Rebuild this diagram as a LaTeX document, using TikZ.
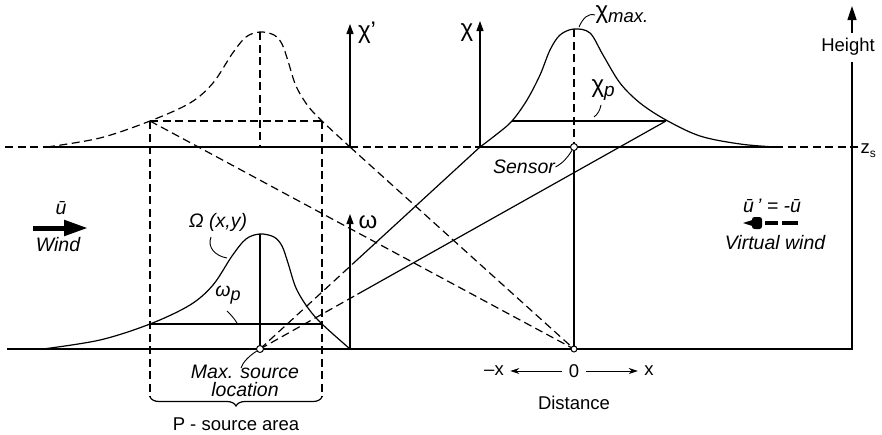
\documentclass[tikz,border=0pt]{standalone}
\usepackage{fontspec}
\setmainfont{Liberation Sans}
\usetikzlibrary{arrows.meta,decorations.pathreplacing,calc}
\begin{document}
\begin{tikzpicture}[x=1pt,y=-1pt,
  line width=1.2pt,
  dsh/.style={dash pattern=on 8pt off 4.5pt},
  lbl/.style={inner sep=0pt,font=\fontsize{18.5}{21}\selectfont},
  ilbl/.style={inner sep=0pt,font=\fontsize{19.5}{18}\selectfont\itshape},
  chif/.style={inner sep=0pt,font=\fontsize{24}{24}\selectfont},
  lead/.style={line width=0.9pt},
  axarrow/.style={-{Triangle[length=10pt,width=7pt]}},
  ring/.style={circle,draw,fill=white,inner sep=0pt,minimum size=7pt,line width=1pt}
]
\useasboundingbox (0,0) rectangle (882,434);

% key points
\coordinate (zsL) at (5,147);
\coordinate (uA) at (47,147);
\coordinate (uB) at (350,147);
\coordinate (cA) at (480,147);
\coordinate (cE) at (775,147);
\coordinate (zsR) at (858,147);
\coordinate (gL) at (7,349);
\coordinate (gR) at (852,349);
\coordinate (src) at (260,349);
\coordinate (orig) at (574,349);
\coordinate (sens) at (574,147);
\coordinate (uL) at (150,121);
\coordinate (uR) at (322,121);
\coordinate (uP) at (260,32);
\coordinate (uPb) at (260,147);
\coordinate (lL) at (150,324);
\coordinate (lR) at (322,324);
\coordinate (lP) at (260,234);
\coordinate (wB) at (350,349);
\coordinate (cL) at (512,121);
\coordinate (cR) at (666,121);
\coordinate (cP) at (574,29);
\coordinate (bL) at (150,397);
\coordinate (bR) at (322,397);

% upper level line z_s
\draw[dsh] (zsL) -- (uA);
\draw (uA) -- (uB);
\draw[dsh] (uB) -- (cA);
\draw (cA) -- (cE);
\draw[dsh] (cE) -- (zsR);

% ground line and height axis
\coordinate (hg1) at (852,62);
\coordinate (hg2) at (852,33);
\coordinate (htip) at (852,6);
\draw (gL) -- (gR) -- (hg1);
\draw[-{Triangle[length=14pt,width=9pt]}] (hg2) -- (htip);
\node[lbl] (height) at (848,47) {Height};
\node[lbl,anchor=west] (zs) at (860,151) {z\raisebox{-4pt}{\fontsize{12}{12}\selectfont s}};

% upper dashed chi' curve
\draw[dsh] plot[smooth,tension=0.55] coordinates {(47,147) (100,138) (150,121) (190,103) (213,83) (232,54) (246,37) (260,32) (274,35) (282,44) (288,61) (296,86) (308,106) (322,121) (350,147)};
\draw[dsh] (uL) -- (uR);
\draw[dsh] (uP) -- (uPb);
\draw[dsh] (uL) -- (bL);
\draw[dsh] (uR) -- (bR);
\draw[axarrow] (uB) -- (350,24);
\node[chif] (chipr) at (367,33) {χ'};

% dashed diagonals
\draw[dsh] (uL) -- (orig);
\draw[dsh] (uB) -- (orig);

% lower source curve
\draw plot[smooth,tension=0.55] coordinates {(43,349) (100,340) (150,324) (190,305) (213,285) (232,256) (246,239) (260,234) (274,237) (282,246) (288,263) (296,288) (308,308) (322,324) (350,349)};
\draw (lL) -- (lR);
\draw (lP) -- (src);
\draw[axarrow] (wB) -- (350,214);
\node[chif] (omega) at (368,222) {ω};

% upper right chi curve
\draw plot[smooth,tension=0.55] coordinates {(480,147) (497,134) (512,121) (527,100) (540,75) (550,50) (560,35) (574,29) (590,33) (603,55) (620,83) (640,103) (666,120) (700,136) (740,144) (775,147)};
\draw (cL) -- (cR);
\draw[dsh] (cP) -- (sens);
\draw (sens) -- (orig);
\draw[axarrow] (cA) -- (480,21);
\node[chif] (chi) at (467,33) {χ};

% connecting lines from source to chi curve
\coordinate (k1) at ($(src)!0.42!(cA)$);
\coordinate (k2) at ($(src)!0.24!(cR)$);
\draw[dsh] (src) -- (k1);
\draw (k1) -- (cA);
\draw[dsh] (src) -- (k2);
\draw (k2) -- (cR);

% rings
\node[ring] (srcring) at (src) {};
\node[ring] (sensring) at (sens) {};
\node[ring,minimum size=6pt] (origring) at (orig) {};

% brace
\draw[decorate,decoration={brace,amplitude=9pt}] (bR) -- (bL);
\node[lbl] (parea) at (236,424) {P - source area};

% labels with leaders
\node[chif,anchor=west] (chimax) at (595,15) {χ\raisebox{-4pt}{\fontsize{18.5}{18}\selectfont\itshape max.}};
\draw[lead] (579,27) .. controls (583,18) and (588,13) .. (chimax.west);
\node[chif,anchor=west] (chip) at (591,90) {χ\raisebox{-4pt}{\fontsize{19}{19}\selectfont\itshape p}};
\draw[lead] (594,117) .. controls (598,114) and (600,110) .. (601,105);
\node[ilbl] (sensor) at (524,167) {Sensor};
\draw[lead] (sensor.east) .. controls (563,163) and (568,157) .. (sensring);
\node[ilbl] (Omlab) at (218,222) {Ω (x,y)};
\draw[lead] (211,237) .. controls (207,247) and (215,256) .. (227,258);
\node[ilbl] (omp) at (228,295) {ω\raisebox{-4pt}{\fontsize{18}{18}\selectfont p}};
\draw[lead] (227,311) .. controls (231,315) and (234,318) .. (237,323);
\node[ilbl,align=center] (maxsrc) at (245,381) {Max. source\\location};
\draw[lead] (srcring) .. controls (249,356) and (243,362) .. (241,368);

% wind
\coordinate (wA) at (33,228);
\coordinate (wE) at (88,228);
\draw[line width=5pt,-{Triangle[length=24pt,width=15pt]}] (wA) -- (wE);
\node[ilbl] (ubar) at (61,208) {ū};
\node[ilbl] (wind) at (58,245) {Wind};

% virtual wind
\node[ilbl] (vu) at (772,206) {ū\,' = -ū};
\fill (743,223) -- (754,219.5) -- (754,226.5) -- cycle;
\fill[rounded corners=2.5pt] (752,217) rectangle (762,229);
\fill (765,221) rectangle (778,225);
\fill (782,221) rectangle (798,225);
\node[ilbl] (vwind) at (775,243) {Virtual wind};

% distance axis
\node[lbl] (mx) at (494,371) {–x};
\node[lbl] (zero) at (574,371) {0};
\node[lbl] (px) at (649,371) {x};
\draw[line width=1pt,-{Stealth[length=9pt,width=6pt]}] ([xshift=-6pt]zero.west) -- ([xshift=6pt]mx.east);
\draw[line width=1pt,-{Stealth[length=9pt,width=6pt]}] ([xshift=6pt]zero.east) -- ([xshift=-6pt]px.west);
\node[lbl] (dist) at (574,403) {Distance};
\end{tikzpicture}
\end{document}
